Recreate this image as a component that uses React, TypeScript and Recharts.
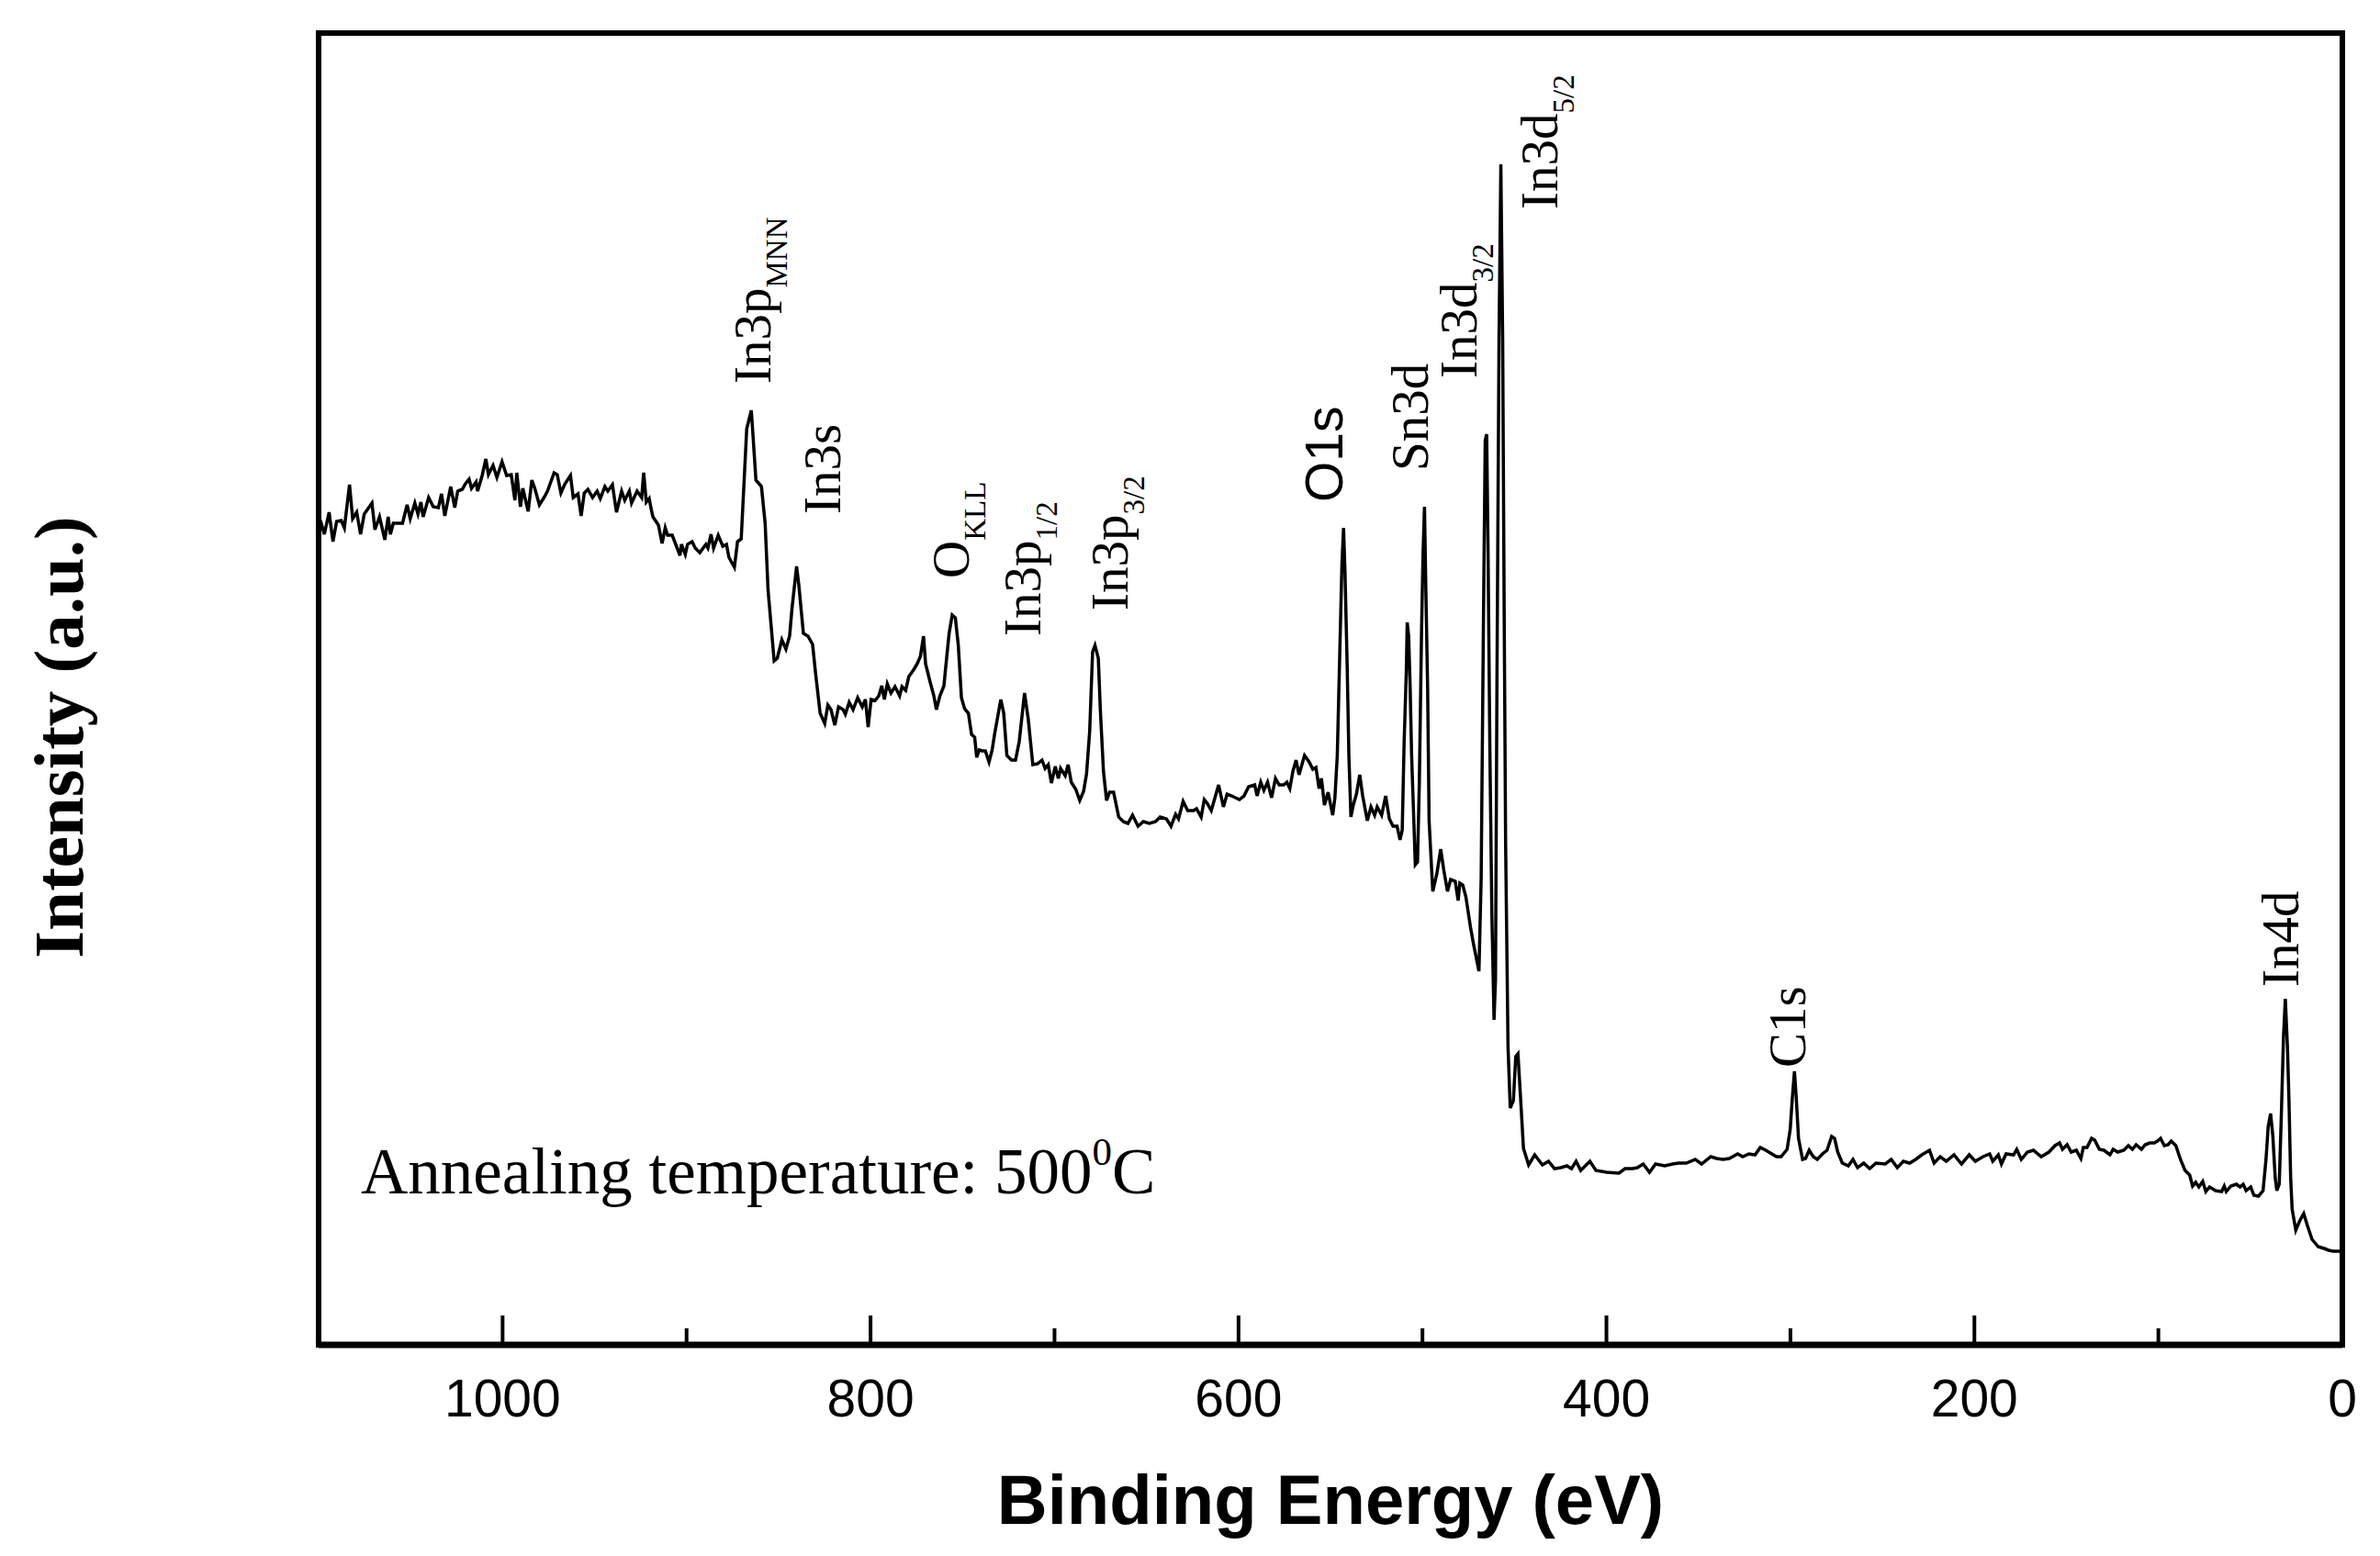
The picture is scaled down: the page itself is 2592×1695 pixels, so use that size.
import { LineChart, Line, XAxis, YAxis, ReferenceArea, ReferenceDot } from "recharts";

// XPS survey spectrum, binding energy (eV) vs intensity (a.u.)
const SURVEY_1100_875: [number, number][] = [
  [1099.5, 890], [1099.0, 896], [1096.9, 881], [1094.3, 905], [1092.2, 873], [1090.2, 895],
  [1087.7, 896], [1086.0, 888], [1083.2, 935], [1081.5, 898], [1079.3, 905], [1077.2, 881],
  [1075.2, 903], [1071.0, 915], [1069.4, 886], [1066.9, 900], [1064.0, 875], [1062.2, 900],
  [1061.0, 881], [1059.4, 893], [1054.4, 893], [1051.9, 913], [1050.2, 898], [1047.7, 915],
  [1046.0, 903], [1044.4, 916], [1043.2, 900], [1040.2, 921], [1037.7, 911], [1034.9, 910],
  [1033.2, 925], [1031.4, 901], [1028.2, 933], [1026.0, 910], [1024.4, 928], [1021.9, 930],
  [1020.2, 936], [1018.2, 941], [1016.9, 931], [1014.4, 938], [1013.6, 928], [1011.1, 945],
  [1009.1, 963], [1007.7, 946], [1005.2, 956], [1003.1, 943], [1000.3, 960], [997.8, 945],
  [995.3, 946], [993.3, 918], [992.3, 948], [990.3, 911], [989.0, 931], [986.1, 906],
  [984.1, 940], [982.5, 931], [980.0, 913], [977.5, 921], [975.6, 928], [972.0, 948],
  [970.3, 946], [968.3, 926], [966.1, 936], [963.1, 945], [961.6, 921], [959.0, 925],
  [957.3, 901], [955.6, 926], [953.6, 930], [951.1, 921], [948.6, 928], [946.9, 920],
  [944.4, 933], [942.8, 928], [940.3, 935], [938.1, 905], [935.3, 928], [933.6, 918],
  [931.1, 928], [929.9, 915], [926.9, 928], [924.4, 921], [923.3, 948], [921.9, 916],
  [920.3, 920], [919.4, 910], [918.3, 900], [915.3, 891], [913.3, 871], [911.6, 888],
  [910.3, 880], [907.8, 880], [903.6, 858], [902.8, 870], [900.7, 859], [899.5, 870],
  [897.0, 873], [895.3, 866], [892.8, 861], [889.5, 870], [888.4, 866], [886.7, 881],
  [885.3, 866], [882.8, 880], [880.3, 868], [878.3, 870], [877.0, 856], [874.0, 845],
];

const SURVEY_875_625: [number, number][] = [
  [872.3, 873], [870.3, 876], [867.3, 996], [864.8, 1016], [862.3, 940], [859.3, 933],
  [857.3, 893], [855.7, 820], [852.4, 743], [850.7, 746], [848.2, 766], [846.0, 756],
  [844.0, 770], [842.7, 800], [840.2, 846], [839.0, 826], [836.5, 773], [834.0, 770],
  [831.5, 761], [829.9, 730], [827.4, 686], [824.9, 675], [823.2, 695], [821.5, 690],
  [819.4, 673], [817.4, 693], [814.9, 690], [813.7, 685], [811.6, 698], [809.5, 690],
  [807.0, 703], [804.5, 693], [802.8, 701], [801.3, 671], [799.7, 701], [797.5, 700],
  [795.5, 705], [793.9, 716], [792.5, 701], [790.9, 718], [788.9, 708], [786.7, 715],
  [784.2, 705], [782.9, 715], [780.9, 711], [779.2, 726], [776.7, 733], [774.6, 740],
  [772.9, 748], [771.2, 770], [770.1, 740], [767.6, 720], [765.6, 705], [764.2, 690],
  [762.3, 705], [760.1, 716], [759.3, 733], [757.3, 773], [755.6, 793], [753.9, 790],
  [752.3, 760], [750.6, 703], [748.9, 691], [746.8, 686], [745.1, 663], [743.4, 660],
  [742.3, 638], [740.9, 646], [739.3, 645], [737.6, 645], [735.6, 633], [733.9, 646],
  [732.6, 663], [729.2, 701], [727.6, 686], [725.9, 640], [723.4, 635], [721.2, 635],
  [719.2, 655], [716.3, 708], [714.3, 680], [711.8, 630], [709.3, 631], [706.8, 635],
  [705.1, 626], [703.4, 630], [701.7, 610], [699.6, 628], [697.9, 615], [696.7, 626],
  [694.2, 618], [692.6, 630], [690.9, 611], [688.4, 603], [686.3, 591], [684.2, 601],
  [682.6, 620], [680.9, 666], [679.3, 753], [678.0, 760], [676.2, 746], [675.1, 690],
  [673.4, 623], [671.7, 591], [670.1, 600], [667.9, 600], [665.1, 573], [662.6, 568],
  [660.1, 566], [657.6, 575], [654.6, 563], [651.7, 568], [648.4, 566], [645.1, 568],
  [642.6, 573], [639.2, 571], [636.7, 563], [634.2, 576], [632.6, 571], [630.1, 590],
  [627.6, 580],
];

const SURVEY_625_470: [number, number][] = [
  [624.5, 580], [622.8, 582], [620.3, 573], [618.6, 592], [617.0, 588], [614.8, 580],
  [612.8, 594], [610.8, 608], [608.2, 584], [606.2, 598], [603.7, 596], [599.5, 592],
  [597.0, 596], [594.5, 606], [591.2, 608], [589.9, 596], [587.9, 611], [586.2, 602],
  [584.2, 611], [582.0, 594], [579.9, 615], [577.9, 608], [575.4, 608], [573.7, 611],
  [572.1, 604], [570.4, 623], [568.7, 635], [567.1, 619], [564.1, 640], [561.6, 633],
  [559.6, 625], [557.9, 627], [556.2, 604], [554.9, 615], [553.3, 586], [551.3, 600],
  [548.8, 575], [547.6, 594], [546.3, 640], [544.9, 756], [543.8, 847], [542.9, 888],
  [542.1, 839], [540.9, 735], [540.0, 640], [538.9, 573], [537.6, 586], [535.9, 598],
  [534.1, 619], [532.5, 596], [530.0, 569], [528.0, 584], [526.0, 575], [524.6, 584],
  [522.2, 575], [520.0, 596], [518.0, 571], [516.0, 563], [513.8, 563], [512.2, 548],
  [511.0, 559], [510.0, 652], [508.8, 731], [508.3, 785], [507.5, 770], [506.7, 714],
  [505.9, 640], [504.7, 569], [503.9, 521], [502.7, 524], [501.7, 611], [500.5, 776],
  [499.7, 859], [498.9, 911], [498.1, 814], [497.2, 714], [496.4, 569], [494.4, 492],
  [492.2, 511], [490.1, 538], [488.4, 515], [486.4, 492], [484.7, 505], [482.2, 503],
  [480.6, 482], [479.7, 501], [478.1, 499], [476.4, 486], [473.9, 453], [472.2, 434],
  [469.3, 405],
];

const SURVEY_470_425: [number, number][] = [
  [468.1, 506], [466.8, 799], [465.9, 983], [465.1, 990], [464.4, 873], [463.4, 653],
  [462.3, 469], [461.1, 352], [460.3, 396], [459.5, 726], [458.4, 1093], [457.4, 1284],
  [456.4, 1093], [455.6, 799], [454.8, 543], [453.5, 323], [452.3, 256], [450.6, 264],
  [449.3, 312], [448.1, 315], [446.8, 271], [445.1, 212], [442.3, 194], [439.0, 205],
  [434.8, 194], [431.5, 198], [428.2, 190],
];

const SURVEY_425_236: [number, number][] = [
  [424.9, 191], [421.5, 193], [419.0, 190], [416.5, 198], [414.0, 188], [409.0, 198],
  [405.7, 188], [399.9, 186], [393.2, 185], [389.9, 190], [385.8, 190], [383.3, 191],
  [380.0, 195], [376.6, 186], [373.3, 195], [368.3, 193], [364.1, 195], [360.8, 196],
  [356.6, 196], [351.7, 200], [348.3, 195], [343.3, 203], [340.0, 201], [336.7, 200],
  [333.3, 201], [328.7, 206], [325.9, 203], [322.6, 206], [319.2, 205], [316.4, 213],
  [313.4, 210], [310.1, 206], [307.6, 203], [305.1, 203], [301.8, 211], [300.1, 233],
  [299.0, 266], [297.8, 296], [296.8, 266], [295.6, 223], [293.4, 200], [291.8, 201],
  [289.8, 210], [287.6, 203], [285.4, 200], [282.6, 206], [280.1, 210], [277.6, 225],
  [276.0, 223], [274.3, 208], [271.8, 196], [268.5, 193], [266.0, 200], [263.5, 191],
  [260.2, 196], [256.9, 190], [253.5, 196], [248.5, 195], [245.2, 200], [241.9, 191],
  [238.6, 198],
];

const SURVEY_236_0: [number, number][] = [
  [235.2, 196], [231.9, 200], [228.6, 205], [224.4, 210], [221.9, 196], [218.6, 203],
  [215.3, 198], [211.1, 205], [207.0, 195], [202.8, 205], [199.5, 198], [195.3, 203],
  [191.7, 206], [190.0, 198], [187.0, 205], [185.3, 195], [182.8, 206], [178.7, 205],
  [177.0, 211], [174.5, 200], [171.2, 208], [167.9, 210], [163.7, 203], [159.5, 208],
  [156.2, 215], [153.7, 218], [152.1, 211], [149.6, 216], [147.4, 208], [144.6, 210],
  [142.1, 201], [140.8, 213], [138.8, 213], [136.3, 223], [134.6, 221], [132.1, 211],
  [129.6, 210], [126.3, 205], [124.6, 211], [122.1, 208], [118.8, 210], [116.3, 215],
  [114.1, 211], [112.1, 216], [109.2, 211], [107.2, 216], [104.7, 218], [102.2, 218],
  [100.5, 220], [98.8, 223], [96.8, 215], [94.7, 216], [93.0, 220], [90.5, 215],
  [88.0, 200], [85.5, 188], [83.0, 183], [81.4, 171], [79.7, 175], [78.0, 170],
  [75.9, 176], [74.2, 165], [72.2, 170], [68.9, 166], [65.6, 165], [64.2, 171],
  [63.1, 165], [60.6, 171], [57.6, 173], [55.6, 170], [53.9, 173], [52.3, 166],
  [49.8, 170], [48.1, 161], [45.6, 160], [43.1, 166], [41.5, 200], [40.3, 236],
  [39.0, 250], [37.8, 226], [36.5, 180], [35.6, 166], [34.3, 173], [33.2, 246],
  [32.0, 333], [31.0, 375], [29.8, 320], [29.0, 263], [28.1, 180], [27.3, 146],
  [25.3, 123], [23.2, 133], [21.0, 141], [19.0, 128], [16.5, 113], [13.2, 105],
  [9.9, 103], [7.4, 101], [4.9, 100], [1.5, 100], [0.5, 99],
];

const X_TICKS = [0, 100, 200, 300, 400, 500, 600, 700, 800, 900, 1000];
const X_LABELED = [0, 200, 400, 600, 800, 1000];

// peak labels: text, subscript, and the point (eV, intensity) where the rotated text starts
const PEAK_LABELS = [
  { name: "In3p", sub: "MNN", ev: 854.5, at: 1045 },
  { name: "In3s", sub: "", ev: 816.6, at: 903 },
  { name: "O", sub: "KLL", ev: 746.7, at: 833 },
  { name: "In3p", sub: "1/2", ev: 707.8, at: 770 },
  { name: "In3p", sub: "3/2", ev: 660.4, at: 798 },
  { name: "O1s", sub: "", ev: 543.6, at: 916 },
  { name: "Sn3d", sub: "", ev: 497.2, at: 950 },
  { name: "In3d", sub: "3/2", ev: 470.8, at: 1051 },
  { name: "In3d", sub: "5/2", ev: 426.8, at: 1235 },
  { name: "C1s", sub: "", ev: 292.1, at: 300 },
  { name: "In4d", sub: "", ev: 24.2, at: 388 },
];
const SANS_LABELS = ["O1s"];

const NOTE = { ev: 1077, at: 163 };

const data = [
  ...SURVEY_1100_875,
  ...SURVEY_875_625,
  ...SURVEY_625_470,
  ...SURVEY_470_425,
  ...SURVEY_425_236,
  ...SURVEY_236_0,
].map(([ev, counts]) => ({ ev, counts }));

const SERIF = "'Liberation Serif', 'Times New Roman', serif";
const SANS = "'Liberation Sans', Arial, sans-serif";

const EnergyTick = (props: any) => {
  const { x, y, payload } = props;
  const labeled = X_LABELED.includes(payload.value);
  return (
    <g>
      <line x1={x} x2={x} y1={y} y2={y - (labeled ? 32 : 18)} stroke="#000" strokeWidth={4} />
      {labeled && (
        <text x={x} y={y + 78} textAnchor="middle" fontFamily={SANS} fontSize={57} fill="#000">
          {payload.value}
        </text>
      )}
    </g>
  );
};

const PeakLabel = ({ cx, cy, name, sub }: any) => (
  <text
    x={cx}
    y={cy}
    transform={`rotate(-90 ${cx} ${cy})`}
    fontFamily={SANS_LABELS.includes(name) ? SANS : SERIF}
    fontSize={57}
    fill="#000"
  >
    {name}
    {sub && (
      <tspan fontSize={33} dy={18}>
        {sub}
      </tspan>
    )}
  </text>
);

const NoteLabel = ({ cx, cy }: any) => (
  <text x={cx} y={cy} fontFamily={SERIF} fontSize={71} fill="#000">
    Annealing temperature: 500
    <tspan fontSize={43} dy={-31}>0</tspan>
    <tspan dy={31}>C</tspan>
  </text>
);

export default function App() {
  return (
    <div style={{ position: "absolute", left: 0, top: 0, background: "#fff" }}>
      <LineChart
        width={2592}
        height={1695}
        data={data}
        margin={{ top: 36, right: 41, bottom: 170, left: 347 }}
      >
        <XAxis
          type="number"
          dataKey="ev"
          domain={[0, 1100]}
          reversed
          ticks={X_TICKS}
          interval={0}
          tickSize={0}
          tickMargin={0}
          tickLine={false}
          height={60}
          axisLine={{ stroke: "#000", strokeWidth: 7 }}
          tick={<EnergyTick />}
          allowDataOverflow
        />
        <YAxis hide type="number" domain={[-2, 1427]} allowDataOverflow />
        <ReferenceArea
          x1={0}
          x2={1100}
          y1={-2}
          y2={1427}
          fill="none"
          stroke="#000"
          strokeWidth={6}
          ifOverflow="visible"
        />
        <Line
          type="linear"
          dataKey="counts"
          stroke="#000"
          strokeWidth={3.5}
          dot={false}
          isAnimationActive={false}
        />
        {PEAK_LABELS.map((l, i) => (
          <ReferenceDot
            key={i}
            x={l.ev}
            y={l.at}
            r={0}
            ifOverflow="visible"
            shape={(p: any) => <PeakLabel cx={p.cx} cy={p.cy} name={l.name} sub={l.sub} />}
          />
        ))}
        <ReferenceDot
          x={NOTE.ev}
          y={NOTE.at}
          r={0}
          ifOverflow="visible"
          shape={(p: any) => <NoteLabel cx={p.cx} cy={p.cy} />}
        />
        <text x={1449} y={1660} textAnchor="middle" fontFamily={SANS} fontWeight="bold" fontSize={76} fill="#000">
          Binding Energy (eV)
        </text>
        <text
          x={90}
          y={803}
          transform="rotate(-90 90 803)"
          textAnchor="middle"
          fontFamily={SERIF}
          fontWeight="bold"
          fontSize={77}
          fill="#000"
        >
          Intensity (a.u.)
        </text>
      </LineChart>
    </div>
  );
}
